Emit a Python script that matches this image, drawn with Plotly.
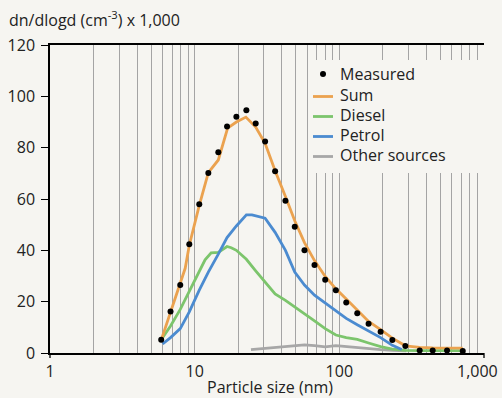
import plotly.graph_objects as go

# ---- data ----
meas_x = [5.87, 6.81, 7.95, 9.18, 10.76, 12.43, 14.57, 16.74, 19.42, 22.77, 26.41, 30.68,
          35.98, 42.41, 49.18, 57.41, 67.35, 79.87, 94.6, 111.6, 133, 159.3, 192.9,
          232.5, 286.1, 359.3, 442, 555.3, 713.2]
meas_y = [5.2, 16.2, 26.5, 42.4, 58.0, 70.1, 78.2, 88.2, 92.0, 94.6, 89.4, 82.4,
          70.8, 59.3, 49.2, 40.0, 34.3, 28.5, 24.4, 19.7, 15.5, 11.4, 8.3,
          5.1, 2.7, 1.0, 1.0, 1.0, 0.8]

sum_x = [5.87, 6.81, 7.95, 8.6, 9.18, 10.76, 12.43, 14.57, 16.9, 19.42, 22.6, 26.41, 30.68,
         35.98, 42.41, 49.18, 57.41, 67.35, 79.87, 94.6, 111.6, 133, 159.3, 192.9,
         232.5, 286.1, 359.3, 442, 555.3, 713.2]
sum_y = [5.0, 15.8, 26.5, 33.0, 42.0, 57.5, 70.3, 75.2, 87.6, 90.0, 91.9, 88.0, 81.7,
         71.0, 61.0, 51.5, 43.0, 36.0, 29.8, 25.0, 21.0, 16.8, 12.3, 9.1,
         5.8, 2.8, 2.2, 2.0, 1.9, 1.9]

diesel_x = [5.87, 6.81, 7.95, 9.18, 10.76, 11.8, 13.0, 14.57, 16.74, 17.9, 19.42, 22.77,
            26.41, 30.68, 35.98, 42.41, 49.18, 57.41, 67.35, 79.87, 94.6, 111.6, 133,
            159.3, 192.9, 232.5, 286.1, 359.3, 442, 555.3, 713.2]
diesel_y = [5.2, 10.5, 17.0, 24.0, 31.5, 36.3, 39.0, 39.2, 41.5, 41.0, 40.0, 36.5,
            32.0, 27.5, 23.0, 20.5, 18.0, 15.5, 12.5, 9.5, 7.0, 6.0, 5.3,
            3.9, 2.5, 1.5, 1.0, 0.9, 0.9, 0.9, 0.9]

petrol_x = [6.0, 6.81, 7.95, 9.18, 10.76, 12.43, 14.57, 16.74, 19.42, 22.77, 24.9, 26.41,
            30.68, 35.98, 42.41, 49.18, 57.41, 67.35, 79.87, 94.6, 111.6, 133, 159.3,
            192.9, 232.5, 270]
petrol_y = [3.5, 6.0, 9.5, 16.0, 24.5, 31.5, 38.5, 45.0, 49.5, 53.8, 53.8, 53.5,
            52.5, 47.0, 40.0, 31.5, 26.5, 22.5, 19.5, 16.5, 13.5, 11.0, 8.5,
            6.0, 3.0, 1.4]

other_x = [24.5, 30.68, 35.98, 42.41, 49.18, 57.41, 67.35, 79.87, 94.6, 111.6, 133,
           159.3, 192.9, 232.5, 290]
other_y = [1.3, 1.8, 2.2, 2.6, 3.0, 3.2, 2.9, 2.4, 2.9, 2.5, 2.0,
           1.6, 1.3, 1.0, 0.8]

legend_labels = ["Measured", "Sum", "Diesel", "Petrol", "Other sources"]
x_tickvals = [1, 10, 100]
x_ticktext = ["1", "10", "100"]
x_last_label = "1,000"
y_tickvals = [0, 20, 40, 60, 80, 100, 120]

# ---- styles ----
BG = "#f6f5f1"
ORANGE = "#eba24f"
GREEN = "#7cc56c"
BLUE = "#4b8bd0"
GRAY = "#a7a7a7"
GRID = "#a4a4a4"
TXT = "#222222"
FONT = "Open Sans"
FS = 16

fig = go.Figure()
fig.add_trace(go.Scatter(x=other_x, y=other_y, mode="lines", line=dict(color=GRAY, width=2.8)))
fig.add_trace(go.Scatter(x=diesel_x, y=diesel_y, mode="lines", line=dict(color=GREEN, width=2.8)))
fig.add_trace(go.Scatter(x=petrol_x, y=petrol_y, mode="lines", line=dict(color=BLUE, width=2.8)))
fig.add_trace(go.Scatter(x=sum_x, y=sum_y, mode="lines", line=dict(color=ORANGE, width=2.8)))
fig.add_trace(go.Scatter(x=meas_x, y=meas_y, mode="markers",
                         marker=dict(color="black", size=6)))

L, R, T, B = 50, 18, 45, 45
W, H = 502, 398
pw, ph = W - L - R, H - T - B

def px2x(px):
    return (px - L) / pw

def py2y(py):
    return (H - B - py) / ph

def px2data(px):
    return 10 ** (3 * (px - L) / pw)

def py2data(py):
    return 120 * (H - B - py) / ph

shapes = []
# legend background hiding grid lines (between grid and traces)
shapes.append(dict(type="rect", xref="x", yref="y",
                   x0=px2data(308), x1=px2data(487), y0=py2data(173), y1=py2data(60),
                   fillcolor=BG, line=dict(width=0), layer="between"))
# end ticks on x axis
for xx in (0, 1):
    shapes.append(dict(type="line", xref="paper", yref="paper", x0=xx, x1=xx,
                       y0=0, y1=py2y(H - B + 5), line=dict(color="black", width=1.3)))
# legend line symbols
leg_colors = [ORANGE, GREEN, BLUE, GRAY]
leg_line_y = [96.5, 116.5, 136.5, 156.5]
for c, yy in zip(leg_colors, leg_line_y):
    shapes.append(dict(type="line", xref="paper", yref="paper",
                       x0=px2x(313), x1=px2x(333), y0=py2y(yy), y1=py2y(yy),
                       line=dict(color=c, width=2.8)))
# measured dot symbol
shapes.append(dict(type="circle", xref="paper", yref="paper",
                   x0=px2x(320), x1=px2x(326), y0=py2y(77), y1=py2y(71),
                   fillcolor="black", line=dict(width=0)))

annotations = []
leg_text_y = [74, 95, 115, 135, 155]
for lab, yy in zip(legend_labels, leg_text_y):
    annotations.append(dict(text=lab, xref="paper", yref="paper", x=px2x(338),
                            y=py2y(yy), xanchor="left", yanchor="middle",
                            showarrow=False, font=dict(size=FS, color=TXT, family=FONT)))
annotations.append(dict(text="dn/dlogd (cm<sup>-3</sup>) x 1,000", xref="paper", yref="paper",
                        x=px2x(7), y=py2y(19), xanchor="left", yanchor="middle",
                        showarrow=False, font=dict(size=FS, color=TXT, family=FONT)))
annotations.append(dict(text="Particle size (nm)", xref="paper", yref="paper",
                        x=px2x(270), y=py2y(387), xanchor="center", yanchor="middle",
                        showarrow=False, font=dict(size=FS, color=TXT, family=FONT)))
# last x tick label, nudged so it stays inside the picture
annotations.append(dict(text=x_last_label, xref="paper", yref="paper",
                        x=px2x(500), y=py2y(371), xanchor="right", yanchor="middle",
                        showarrow=False, font=dict(size=FS, color=TXT, family=FONT)))

fig.update_layout(
    width=W, height=H,
    margin=dict(l=L, r=R, t=T, b=B, autoexpand=False),
    paper_bgcolor=BG, plot_bgcolor=BG,
    showlegend=False,
    font=dict(family=FONT, size=FS, color=TXT),
    shapes=shapes, annotations=annotations,
    xaxis=dict(type="log", range=[0, 3], tickvals=x_tickvals, ticktext=x_ticktext,
               ticks="", showline=True, linecolor="black", linewidth=1.5, mirror=True,
               showgrid=True, gridcolor=GRID, gridwidth=1, automargin=False,
               minor=dict(showgrid=True, gridcolor=GRID, gridwidth=1, dtick="D1", ticks=""),
               zeroline=False, ticklabelstandoff=3),
    yaxis=dict(range=[0, 120], tickvals=y_tickvals, ticks="outside", ticklen=7,
               tickcolor="black", tickwidth=1.3, automargin=False,
               showline=True, linecolor="black", linewidth=1.5, mirror=False,
               showgrid=False, zeroline=False, ticklabelstandoff=3),
)

fig.write_html("out.html")
